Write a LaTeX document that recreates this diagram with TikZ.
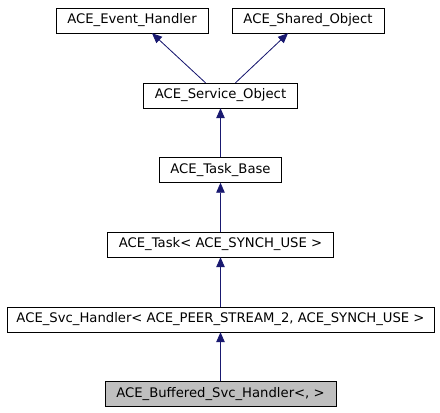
\documentclass[tikz,border=0pt]{standalone}
\usepackage{fontspec}
\setmainfont{DejaVu Sans}
\usepackage{xcolor}
\usetikzlibrary{arrows.meta,positioning}
\definecolor{edgeblue}{HTML}{191970}
\definecolor{selgray}{HTML}{BFBFBF}

\begin{document}
\begin{tikzpicture}[x=1pt,y=-1pt]
  \tikzset{cls/.style={draw,rectangle,inner sep=0pt,minimum height=25pt,font=\fontsize{13.2}{15}\selectfont}}
  \tikzset{inherit/.style={-{Triangle[length=10pt,width=8.5pt]},draw=edgeblue,fill=edgeblue,line width=0.8pt}}
  \useasboundingbox (0,0) rectangle (440,413);
  \node[cls,minimum width=152pt] (evh) at (132,20.5) {ACE\_Event\_Handler};
  \node[cls,minimum width=152pt] (sho) at (308,20.5) {ACE\_Shared\_Object};
  \node[cls,minimum width=154pt] (svo) at (220.5,95.5) {ACE\_Service\_Object};
  \node[cls,minimum width=122pt] (tbase) at (220.5,170) {ACE\_Task\_Base};
  \node[cls,minimum width=226pt] (task) at (220.5,244.5) {ACE\_Task< ACE\_SYNCH\_USE >};
  \node[cls,minimum width=427pt] (svch) at (220.5,319.5) {ACE\_Svc\_Handler< ACE\_PEER\_STREAM\_2, ACE\_SYNCH\_USE >};
  \node[cls,minimum width=231pt,fill=selgray] (bsvch) at (220.5,394) {ACE\_Buffered\_Svc\_Handler<, >};

  \draw[inherit] ([xshift=-15pt]svo.north) -- ([xshift=20pt]evh.south);
  \draw[inherit] ([xshift=15pt]svo.north) -- ([xshift=-20pt]sho.south);
  \draw[inherit] (tbase) -- (svo);
  \draw[inherit] (task) -- (tbase);
  \draw[inherit] (svch) -- (task);
  \draw[inherit] (bsvch) -- (svch);
\end{tikzpicture}
\end{document}
